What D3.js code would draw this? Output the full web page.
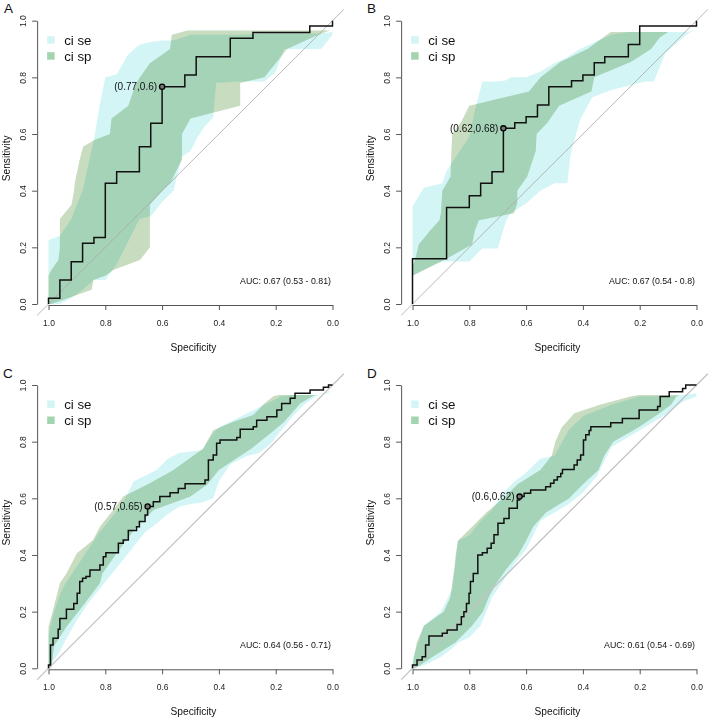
<!DOCTYPE html>
<html><head><meta charset="utf-8">
<script src="https://cdn.jsdelivr.net/npm/d3@7"></script>
<style>
html,body{margin:0;padding:0;background:#fff;}
svg{display:block;font-family:"Liberation Sans",Arial,sans-serif;}
.sp{mix-blend-mode:multiply;}
</style></head>
<body><svg id="chart" width="709" height="719"></svg>
<script>
// ---------- data ----------
const panelLetters = ["A","B","C","D"];
const aucLabels = ["AUC: 0.67 (0.53 - 0.81)","AUC: 0.67 (0.54 - 0.8)","AUC: 0.64 (0.56 - 0.71)","AUC: 0.61 (0.54 - 0.69)"];
const pointLabels = ["(0.77,0.6)","(0.62,0.68)","(0.57,0.65)","(0.6,0.62)"];
const pointSpec = [0.60, 0.68, 0.651, 0.623];
const pointSens = [0.767, 0.62, 0.571, 0.606];
const tickValues = [1.0, 0.8, 0.6, 0.4, 0.2, 0.0];
const legendLabels = ["ci se","ci sp"];

// ROC curves (step vertices: specificity, sensitivity)
const A_spec = [1,1,.96,.92,.88,.84,.80,.76,.68,.64,.60,.52,.48,.36,.28,.08,0];
const A_sens = [0,.02,.085,.149,.214,.235,.426,.467,.555,.638,.767,.808,.873,.938,.958,.981,1];
const B_spec = [1,1,.88,.80,.76,.72,.68,.64,.60,.56,.52,.44,.40,.36,.323,.24,.20,0];
const B_sens = [0,.16,.341,.382,.426,.467,.62,.64,.661,.702,.767,.788,.808,.852,.873,.916,.981,1];
const C_spec = [1,1,.993,.984,.966,.96,.937,.911,.899,.89,.88,.868,.854,.819,.807,.798,.754,.737,.719,.69,.68,.66,.651,.631,.608,.572,.543,.519,.449,.437,.42,.408,.396,.337,.325,.279,.267,.231,.196,.179,.149,.132,.079,.032,.014,0];
const C_sens = [0,.012,.082,.106,.138,.176,.208,.229,.265,.306,.318,.324,.347,.365,.394,.408,.441,.453,.486,.50,.518,.541,.571,.588,.606,.62,.635,.651,.665,.735,.753,.794,.806,.815,.844,.853,.876,.888,.912,.935,.953,.971,.982,.992,1,1];
const D_spec = [1,1,.984,.966,.954,.942,.895,.878,.843,.828,.819,.81,.801,.796,.786,.77,.754,.737,.723,.713,.699,.678,.66,.631,.623,.607,.584,.531,.514,.502,.49,.478,.472,.431,.42,.408,.398,.39,.378,.372,.302,.261,.202,.137,.128,.096,.049,.038,0];
const D_sens = [0,.012,.029,.041,.082,.114,.124,.135,.155,.182,.2,.229,.265,.306,.335,.4,.408,.424,.441,.471,.512,.529,.565,.594,.606,.618,.629,.641,.653,.665,.676,.688,.702,.718,.735,.753,.806,.824,.839,.853,.867,.882,.912,.924,.959,.976,.988,1,1];

// CI of sensitivity (at given specificities)
const A_seSpec = [1,.96,.92,.88,.84,.82,.80,.76,.72,.68,.64,.60,.56,.53,.50,.48,.455,.42,.41,.33,.24,.20,.17,.10,.04,0];
const A_seLo   = [0,0,.02,.05,.085,.085,.085,.14,.22,.30,.31,.36,.40,.52,.54,.58,.62,.66,.78,.785,.785,.82,.90,.90,.90,.95];
const A_seHi   = [.226,.24,.30,.40,.58,.70,.80,.81,.88,.915,.925,.93,.93,.94,.95,.95,.95,.95,.95,.95,.955,.955,.955,.955,.955,.96];
const B_seSpec = [1,.96,.92,.895,.88,.84,.80,.78,.754,.70,.67,.655,.60,.55,.50,.455,.443,.41,.367,.30,.24,.18,.15,.11,.06,.03,0];
const B_seLo   = [.10,.12,.14,.15,.15,.15,.15,.17,.196,.196,.296,.32,.355,.40,.426,.426,.53,.65,.73,.755,.77,.785,.785,.885,.93,.955,.97];
const B_seHi   = [.344,.41,.42,.426,.47,.53,.59,.685,.785,.785,.79,.80,.80,.82,.85,.87,.88,.90,.92,.95,.96,.96,.96,.96,.96,.96,.97];
const C_seSpec = [1,.98,.96,.94,.90,.86,.82,.78,.74,.70,.66,.62,.58,.54,.50,.46,.42,.40,.36,.30,.26,.22,.18,.14,.10,.06,.02,0];
const C_seLo   = [0,.03,.06,.10,.17,.23,.28,.33,.38,.43,.48,.51,.545,.57,.58,.585,.60,.66,.72,.75,.76,.79,.84,.89,.93,.96,.975,.98];
const C_seHi   = [.12,.20,.26,.30,.36,.42,.48,.53,.58,.66,.68,.70,.74,.76,.765,.77,.83,.85,.87,.90,.92,.94,.96,.965,.965,.965,.97,.98];
const D_seSpec = [1,.96,.90,.86,.84,.80,.76,.72,.68,.64,.60,.55,.50,.45,.40,.35,.30,.20,.10,.05,0];
const D_seLo   = [0,.01,.04,.07,.09,.11,.15,.25,.31,.37,.42,.52,.55,.58,.62,.68,.78,.84,.90,.94,.96];
const D_seHi   = [.03,.15,.20,.28,.45,.47,.52,.56,.62,.66,.69,.74,.75,.84,.89,.91,.93,.96,.96,.965,.97];

// CI of specificity (at given sensitivities)
const A_spSens = [0,.05,.085,.10,.12,.155,.20,.30,.35,.40,.43,.51,.555,.58,.60,.655,.70,.755,.78,.80,.85,.90,.95,.965];
const A_spHi   = [1,1,1,1,.99,.965,.96,.96,.919,.91,.907,.89,.878,.837,.784,.778,.719,.70,.69,.678,.643,.572,.566,.51];
const A_spLo   = [.99,.848,.842,.80,.772,.678,.643,.643,.643,.60,.57,.53,.53,.53,.53,.50,.325,.325,.325,.24,.20,.16,.05,.01];
const B_spSens = [.10,.13,.16,.21,.26,.296,.32,.355,.40,.45,.54,.60,.64,.70,.75,.80,.855,.90,.94,.96];
const B_spHi   = [1,1,.99,.978,.937,.905,.90,.898,.895,.866,.863,.86,.83,.80,.59,.549,.478,.384,.33,.302];
const B_spLo   = [1,.94,.88,.79,.78,.766,.643,.631,.631,.596,.566,.563,.525,.484,.37,.36,.23,.16,.13,.10];
const C_spSens = [0,.08,.147,.206,.30,.335,.406,.453,.50,.559,.606,.65,.70,.776,.84,.87,.894,.935,.96,.965];
const C_spHi   = [1,1,1,.984,.96,.937,.90,.843,.819,.772,.737,.65,.56,.455,.42,.349,.279,.24,.208,.19];
const C_spLo   = [.99,.98,.937,.89,.819,.81,.76,.725,.69,.63,.50,.44,.40,.285,.205,.17,.149,.114,.07,.06];
const D_spSens = [0,.04,.09,.15,.20,.25,.30,.35,.40,.45,.50,.55,.60,.65,.70,.75,.80,.85,.90,.93,.96,.965];
const D_spHi   = [1,.995,.985,.96,.89,.867,.86,.853,.848,.84,.79,.74,.68,.63,.55,.51,.497,.475,.43,.34,.23,.2];
const D_spLo   = [.99,.93,.85,.79,.752,.732,.705,.67,.628,.60,.575,.53,.448,.40,.345,.325,.293,.205,.13,.09,.07,.06];

// ---------- drawing ----------
const curves = [[A_spec,A_sens],[B_spec,B_sens],[C_spec,C_sens],[D_spec,D_sens]];
const seBands = [[A_seSpec,A_seLo,A_seHi],[B_seSpec,B_seLo,B_seHi],[C_seSpec,C_seLo,C_seHi],[D_seSpec,D_seLo,D_seHi]];
const spBands = [[A_spSens,A_spLo,A_spHi],[B_spSens,B_spLo,B_spHi],[C_spSens,C_spLo,C_spHi],[D_spSens,D_spLo,D_spHi]];

const layout = [
  {x1:48.5, x0:332.5, y0:304,   y1:20.7, lx:4,   ly:13.3},
  {x1:412.5,x0:696.5, y0:304,   y1:20.7, lx:367, ly:13.3},
  {x1:48.5, x0:332.5, y0:668.3, y1:385,  lx:3,   ly:378},
  {x1:412.5,x0:696.5, y0:668.3, y1:385,  lx:367, ly:378}
];
const seColor = "#d3f5f5", spColor = "#c8dcc0", spLegend = "#a2d4b0";
const svg = d3.select("#chart");
svg.append("rect").attr("width",709).attr("height",719).attr("fill","#fff");
const fmt = d3.format(".1f");
const line = d3.line();

layout.forEach((L, p) => {
  const g = svg.append("g").style("isolation","isolate");
  const x = d3.scaleLinear().domain([1,0]).range([L.x1, L.x0]);
  const y = d3.scaleLinear().domain([0,1]).range([L.y0, L.y1]);
  const axX = x(1.04);

  // se band
  const [sS, sLo, sHi] = seBands[p];
  const sePts = sS.map((s,i)=>[x(s), y(sHi[i])]).concat(sS.map((s,i)=>[x(s), y(sLo[i])]).reverse());
  g.append("path").attr("d", line(sePts)+"Z").attr("fill", seColor);
  // sp band
  const [pS, pLo, pHi] = spBands[p];
  const spPts = pS.map((s,i)=>[x(pHi[i]), y(s)]).concat(pS.map((s,i)=>[x(pLo[i]), y(s)]).reverse());
  g.append("path").attr("class","sp").attr("d", line(spPts)+"Z").attr("fill", spColor);

  // diagonal
  g.append("line").attr("x1",x(1.04)).attr("y1",y(-0.04)).attr("x2",x(-0.04)).attr("y2",y(1.04))
    .attr("stroke", p<2 ? "#a8a8a8" : "#c4c4c4").attr("stroke-width", p<2 ? 0.8 : 1.3);

  // axes
  const xa = g.append("g").attr("transform",`translate(0,${L.y0+1})`)
    .call(d3.axisBottom(x).tickValues(tickValues).tickFormat(fmt).tickSize(5).tickSizeOuter(0));
  const ya = g.append("g").attr("transform",`translate(${axX},0)`)
    .call(d3.axisLeft(y).tickValues(tickValues).tickFormat(fmt).tickSize(5).tickSizeOuter(0));
  [xa, ya].forEach(a => {
    a.select(".domain").attr("stroke","#555");
    a.selectAll(".tick line").attr("stroke","#555");
    a.selectAll("text").attr("fill","#222").style("font-size","8.5px").style("font-family","'Liberation Sans',Arial,sans-serif");
  });
  xa.selectAll("text").attr("y",21).attr("dy",null);
  ya.selectAll("text").attr("x",null).attr("dy",null).attr("text-anchor","middle")
    .attr("transform","translate(-11.5,0) rotate(-90)");

  // ROC curve
  const [cS, cSe] = curves[p];
  g.append("path").attr("d", d3.line().curve(d3.curveStepAfter)(cS.map((s,i)=>[x(s), y(cSe[i])])))
    .attr("fill","none").attr("stroke","#111").attr("stroke-width",1.5);

  // threshold point
  const px = x(pointSpec[p]), py = y(pointSens[p]);
  g.append("circle").attr("cx",px).attr("cy",py).attr("r",2.6).attr("fill","#777").attr("stroke","#000").attr("stroke-width",1.3);
  g.append("text").attr("x",px-5).attr("y",py).attr("dy","0.35em").attr("text-anchor","end")
    .style("font-size","10px").attr("fill","#111").text(pointLabels[p]);

  // AUC text
  g.append("text").attr("x",L.x0-1.5).attr("y",L.y0-20.5).attr("text-anchor","end")
    .style("font-size","8.8px").attr("fill","#111").text(aucLabels[p]);

  // axis titles
  g.append("text").attr("x",(L.x1+L.x0)/2+3).attr("y",L.y0+46.5).attr("text-anchor","middle")
    .style("font-size","10.2px").attr("fill","#111").text("Specificity");
  g.append("text").attr("transform",`translate(${axX-27.5},${(L.y0+L.y1)/2-4}) rotate(-90)`)
    .attr("text-anchor","middle").style("font-size","10.2px").attr("fill","#111").text("Sensitivity");

  // legend
  const legColors = [seColor, spLegend];
  legendLabels.forEach((t,i) => {
    g.append("rect").attr("x",axX+10).attr("y",L.y1+15.5+16*i).attr("width",7.5).attr("height",7.5).attr("fill",legColors[i]);
    g.append("text").attr("x",axX+27).attr("y",L.y1+24.3+16*i).style("font-size","13.3px").attr("fill","#111").text(t);
  });

  // panel letter
  svg.append("text").attr("x",L.lx).attr("y",L.ly).style("font-family","'Liberation Sans',Arial,sans-serif")
    .style("font-size","13.5px").attr("fill","#111").text(panelLetters[p]);
});
</script>
</body></html>
